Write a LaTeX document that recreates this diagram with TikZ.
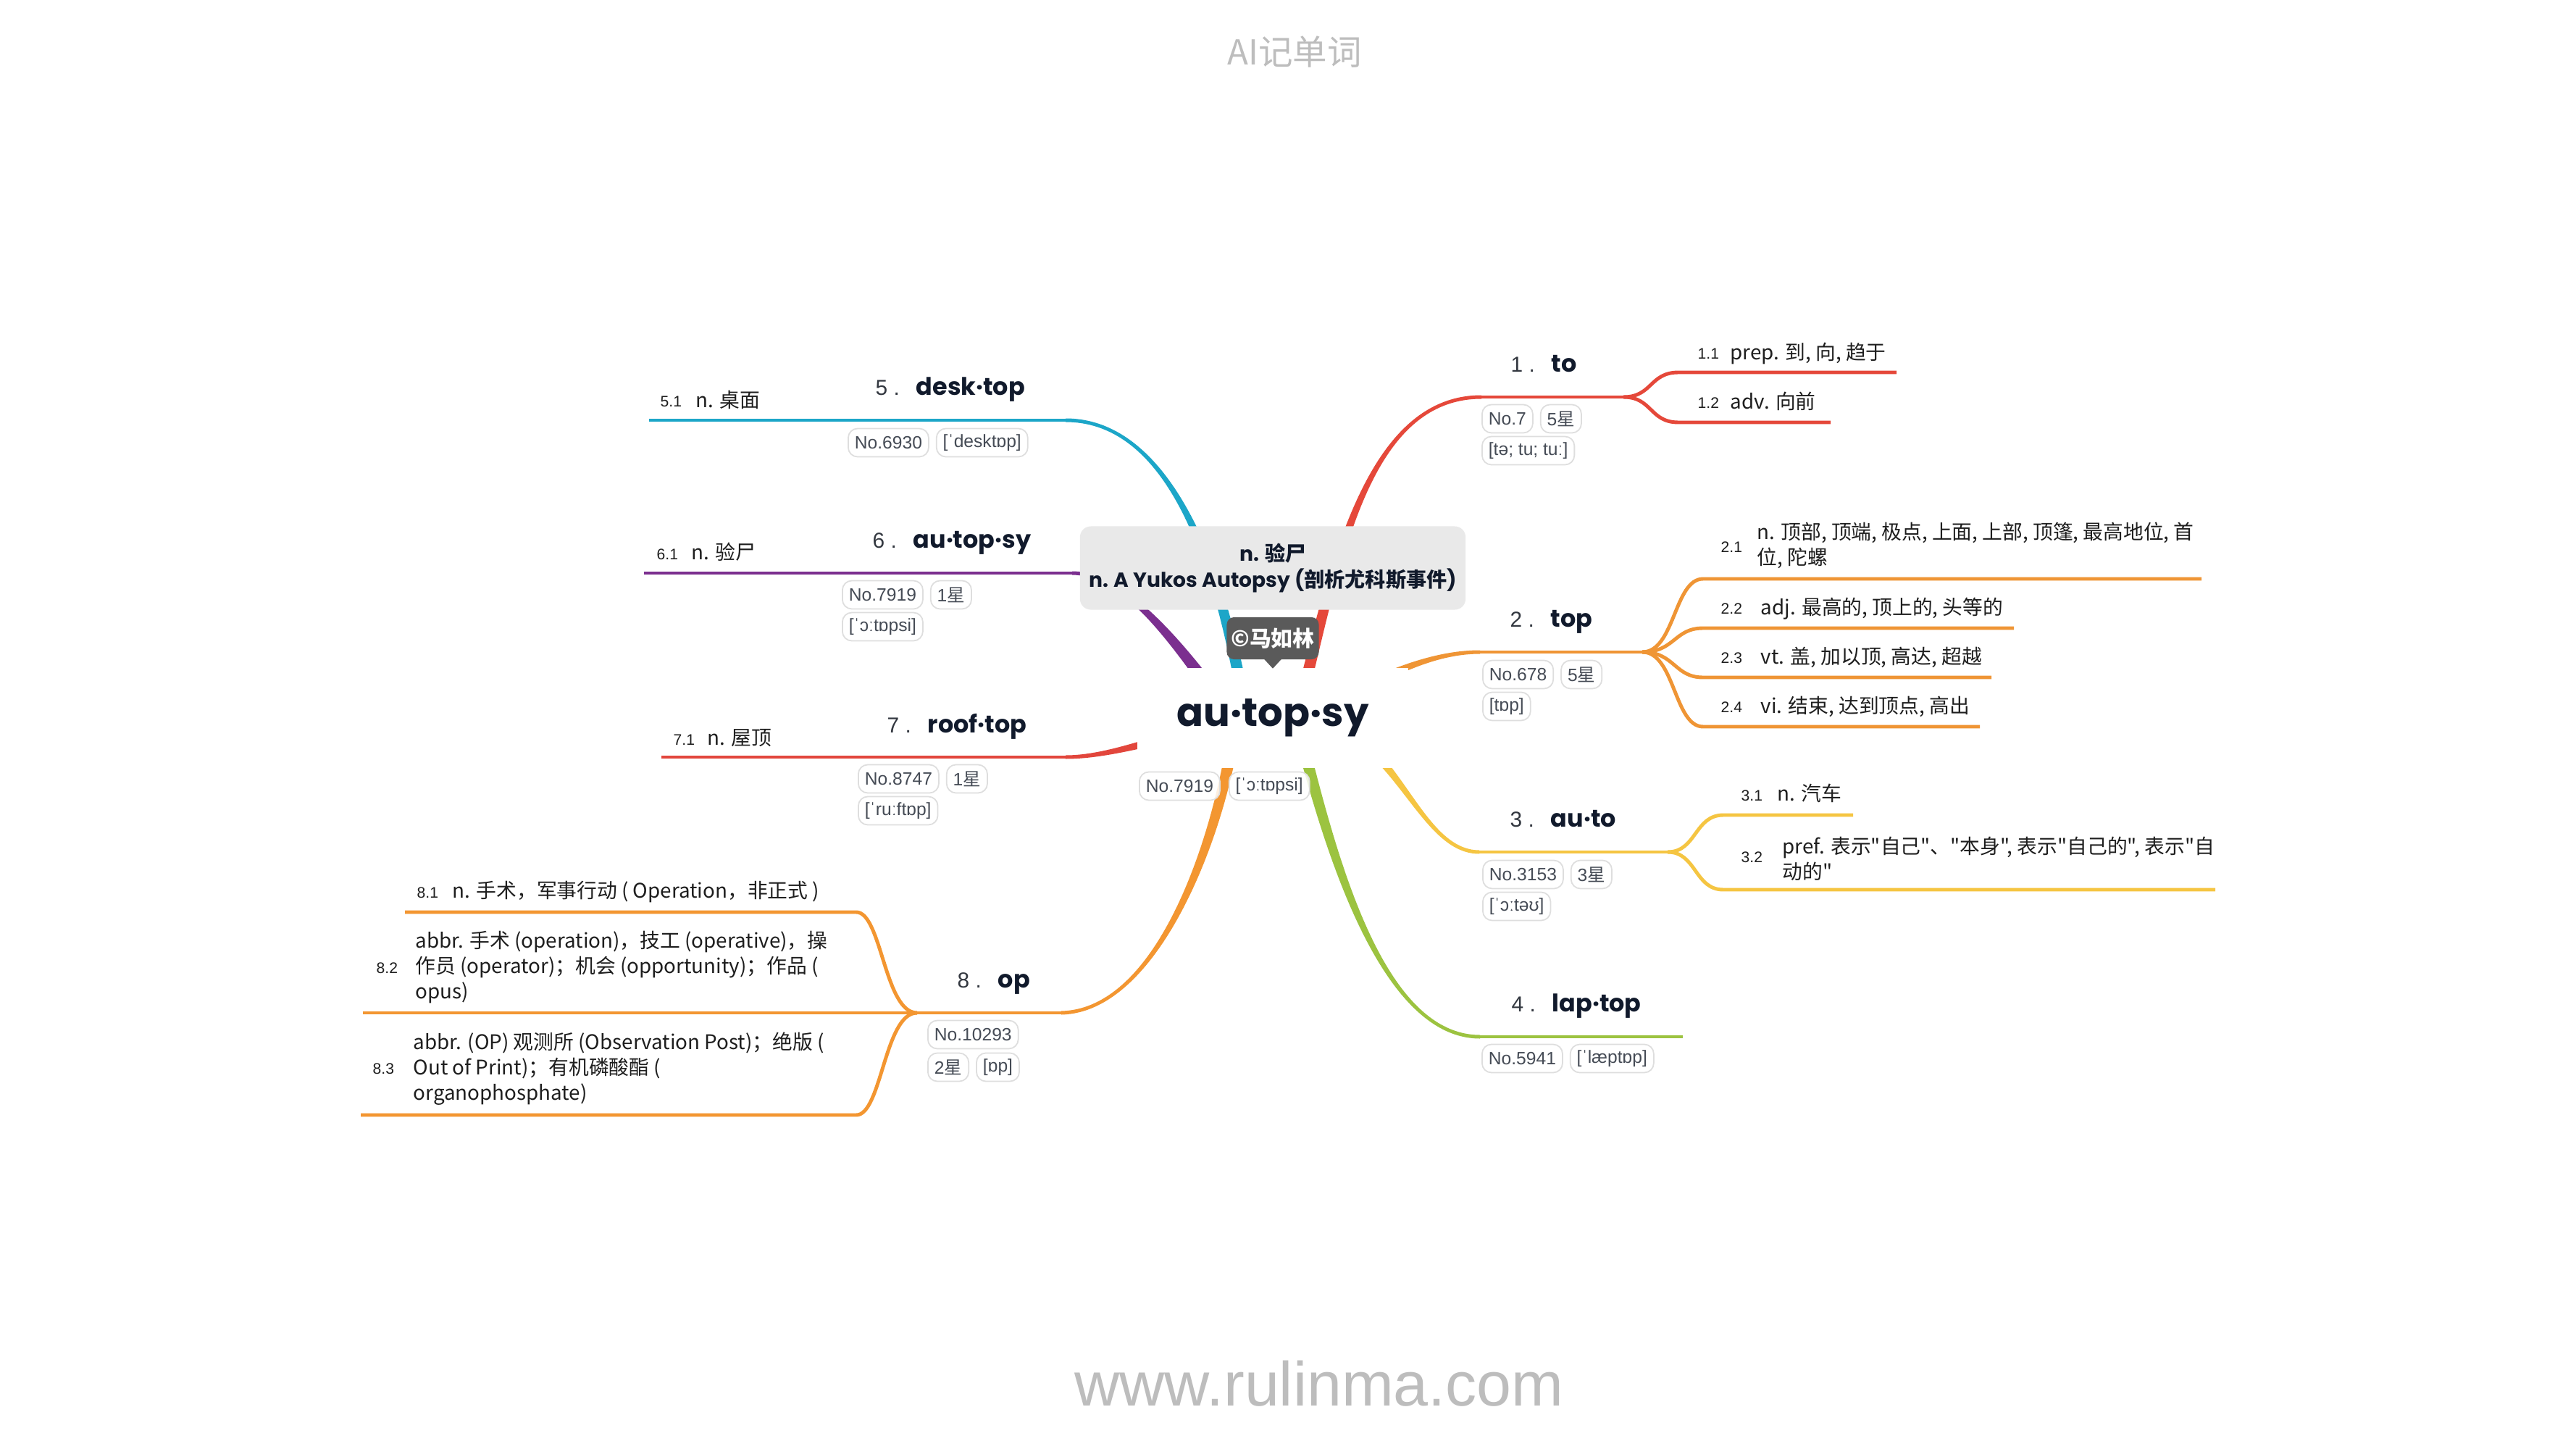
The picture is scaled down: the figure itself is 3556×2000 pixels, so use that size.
\documentclass[tikz,border=0pt]{standalone}
\usepackage{fontspec}
\setmainfont{Liberation Sans}
\newfontfamily\cjk{Noto Sans CJK SC}
\newfontfamily\pop{Poppins}
\usetikzlibrary{calc}
\pgfdeclarelayer{back}
\pgfdeclarelayer{bg}
\pgfsetlayers{back,bg,main}
\definecolor{redA}{HTML}{E5483A}
\definecolor{orangeB}{HTML}{EF9535}
\definecolor{yellowC}{HTML}{F5C542}
\definecolor{greenD}{HTML}{9CC340}
\definecolor{blueE}{HTML}{1CA6C8}
\definecolor{purpleF}{HTML}{7B2F8F}
\definecolor{redG}{HTML}{E2463C}
\definecolor{orangeH}{HTML}{F39631}
\definecolor{wordc}{HTML}{111A2C}
\definecolor{numc}{HTML}{333840}
\definecolor{leafc}{HTML}{1E1E1E}
\definecolor{tagc}{HTML}{454B55}
\definecolor{tagb}{HTML}{DEDEDE}
\definecolor{boxg}{HTML}{E9E9E9}
\definecolor{cbox}{HTML}{5A5A5A}
\definecolor{greyt}{HTML}{BDBDBD}

\newcommand\taper[7]{%
  \path ($(#1)!#5!90:(#2)$) coordinate (tA)
        ($(#1)!#5!-90:(#2)$) coordinate (tB)
        ($(#4)!#6!-90:(#3)$) coordinate (tC)
        ($(#4)!#6!90:(#3)$) coordinate (tD);
  \fill[#7] (tA) .. controls ($(#2)+(tA)-(#1)$) and ($(#3)+(tC)-(#4)$) .. (tC)
     -- (tD) .. controls ($(#3)+(tD)-(#4)$) and ($(#2)+(tB)-(#1)$) .. (tB) -- cycle;
}
\newcommand\xing{{\cjk 星}}
\newcommand\lab[2]{{\fontsize{8.5}{10}\selectfont\color{numc}#1 .}\hspace{6.5pt}{\pop\bfseries\fontsize{9.5}{11}\selectfont\color{wordc}#2}}

\begin{document}
\begin{tikzpicture}[x=0.01cm,y=-0.01cm,
  word/.style={anchor=base west,inner sep=0},
  leaf/.style={anchor=base west,inner sep=0,text=leafc,font=\cjk\fontsize{7.9}{10}\selectfont},
  leafm/.style={anchor=west,inner sep=0,align=left,text=leafc,font=\cjk\fontsize{7.9}{10}\selectfont},
  leafnum/.style={anchor=base west,inner sep=0,text=leafc,font=\fontsize{6}{7}\selectfont},
  tag/.style={anchor=west,draw=tagb,line width=0.5pt,fill=white,fill opacity=0.85,text opacity=1,rounded corners=0.13cm,minimum height=0.39cm,inner xsep=0.09cm,inner ysep=0pt,text=tagc,font=\fontsize{7}{8}\selectfont},
  sub/.style={line width=1.4pt},
]
\begin{pgfonlayer}{back}
\fill[white] (0,0) rectangle (3556,2000);
\end{pgfonlayer}
\useasboundingbox (0,0) rectangle (3556,2000);

% title and footer
\node[font=\cjk\fontsize{13.5}{16}\selectfont,text=greyt] (title) at (1787,72) {AI记单词};
\node[anchor=base,font=\fontsize{24.5}{28}\selectfont,text=greyt] (foot) at (1821,1940) {www.rulinma.com};

% central topic
\node[fill=white,minimum width=3.73cm,minimum height=1.38cm,inner sep=0,text=wordc,font=\pop\bfseries\fontsize{15.5}{18}\selectfont] (root) at (1757,991) {au·top·sy};
\node[fill=boxg,rounded corners=0.15cm,minimum width=5.32cm,minimum height=1.15cm,inner sep=0,align=center,text=wordc,font=\pop\bfseries\fontsize{8}{10}\selectfont] (def) at (1757,784) {n. {\cjk\bfseries 验尸}\\n. A Yukos Autopsy ({\cjk\bfseries 剖析尤科斯事件})};
\node[fill=cbox,rounded corners=0.1cm,minimum width=1.27cm,minimum height=0.58cm,inner sep=0,text=white,font=\cjk\bfseries\fontsize{8.5}{10}\selectfont] (copy) at (1757,881) {©马如林};
\fill[cbox] ($(copy.south)+(-12,-1)$) -- ($(copy.south)+(12,-1)$) -- ($(copy.south)+(0,12)$) -- cycle;
\node[tag] (t0a) at (1572,1085) {No.7919};
\node[tag] (t0b) at ($(t0a.east)+(11,0)$) {[ˈɔːtɒpsi]};

% main topic labels
\node[word] (n1) at (2085,513) {\lab{1}{to}};
\node[word] (n2) at (2084,865) {\lab{2}{top}};
\node[word] (n3) at (2084,1141) {\lab{3}{au·to}};
\node[word] (n4) at (2086,1396) {\lab{4}{lap·top}};
\node[word] (n5) at (1208,545) {\lab{5}{desk·top}};
\node[word] (n6) at (1204,756) {\lab{6}{au·top·sy}};
\node[word] (n7) at (1224,1011) {\lab{7}{roof·top}};
\node[word] (n8) at (1321,1363) {\lab{8}{op}};

% tags
\node[tag] (t1a) at (2045,578) {No.7};
\node[tag] (t1b) at ($(t1a.east)+(9,0)$) {5\xing\hspace{7pt}};
\node[tag] (t1c) at (2045,622) {[tə; tu; tuː]};
\node[tag] (t2a) at (2046,931) {No.678};
\node[tag] (t2b) at ($(t2a.east)+(9,0)$) {5\xing\hspace{7pt}};
\node[tag] (t2c) at (2046,975) {[tɒp]};
\node[tag] (t3a) at (2046,1207) {No.3153};
\node[tag] (t3b) at ($(t3a.east)+(9,0)$) {3\xing\hspace{7pt}};
\node[tag] (t3c) at (2046,1251) {[ˈɔːtəʊ]};
\node[tag] (t4a) at (2045,1461) {No.5941};
\node[tag] (t4b) at ($(t4a.east)+(9,0)$) {[ˈlæptɒp]};
\node[tag] (t5a) at (1170,611) {No.6930};
\node[tag] (t5b) at ($(t5a.east)+(9,0)$) {[ˈdesktɒp]};
\node[tag] (t6a) at (1162,821) {No.7919};
\node[tag] (t6b) at ($(t6a.east)+(9,0)$) {1\xing\hspace{7pt}};
\node[tag] (t6c) at (1162,865) {[ˈɔːtɒpsi]};
\node[tag] (t7a) at (1184,1075) {No.8747};
\node[tag] (t7b) at ($(t7a.east)+(9,0)$) {1\xing\hspace{7pt}};
\node[tag] (t7c) at (1184,1119) {[ˈruːftɒp]};
\node[tag] (t8a) at (1280,1428) {No.10293};
\node[tag] (t8b) at (1280,1473) {2\xing\hspace{7pt}};
\node[tag] (t8c) at ($(t8b.east)+(9,0)$) {[ɒp]};

% leaves
\node[leafnum] (k11) at (2343,495) {1.1};
\node[leaf] (v11) at (2388,496) {prep. 到, 向, 趋于};
\node[leafnum] (k12) at (2343,563) {1.2};
\node[leaf] (v12) at (2388,564) {adv. 向前};
\node[leafnum] (k21) at (2375,762) {2.1};
\node[leafm] (v21) at (2425,753) {n. 顶部, 顶端, 极点, 上面, 上部, 顶篷, 最高地位, 首\\位, 陀螺};
\node[leafnum] (k22) at (2375,847) {2.2};
\node[leaf] (v22) at (2430,848) {adj. 最高的, 顶上的, 头等的};
\node[leafnum] (k23) at (2375,915) {2.3};
\node[leaf] (v23) at (2430,916) {vt. 盖, 加以顶, 高达, 超越};
\node[leafnum] (k24) at (2375,983) {2.4};
\node[leaf] (v24) at (2430,984) {vi. 结束, 达到顶点, 高出};
\node[leafnum] (k31) at (2403,1105) {3.1};
\node[leaf] (v31) at (2453,1105) {n. 汽车};
\node[leafnum] (k32) at (2403,1190) {3.2};
\node[leafm] (v32) at (2460,1185) {pref. 表示"自己"、"本身", 表示"自己的", 表示"自\\动的"};
\node[leafnum] (k51) at (911,561) {5.1};
\node[leaf] (v51) at (960,562) {n. 桌面};
\node[leafnum] (k61) at (906,772) {6.1};
\node[leaf] (v61) at (954,772) {n. 验尸};
\node[leafnum] (k71) at (929,1028) {7.1};
\node[leaf] (v71) at (976,1028) {n. 屋顶};
\node[leafnum] (k81) at (575,1239) {8.1};
\node[leaf] (v81) at (624,1239) {n. 手术，军事行动 ( Operation，非正式 )};
\node[leafnum] (k82) at (519,1343) {8.2};
\node[leafm] (v82) at (573,1335) {abbr. 手术 (operation)，技工 (operative)，操\\作员 (operator)；机会 (opportunity)；作品 (\\opus)};
\node[leafnum] (k83) at (514,1482) {8.3};
\node[leafm] (v83) at (570,1475) {abbr. (OP) 观测所 (Observation Post)；绝版 (\\Out of Print)；有机磷酸酯 (\\organophosphate)};

% connector points
\coordinate (b1p) at (1790,990); \coordinate (b1q) at (1840,800); \coordinate (b1r) at (1880,548); \coordinate (b1e) at (2045,548);
\coordinate (b2p) at (1800,990); \coordinate (b2q) at (1880,950); \coordinate (b2r) at (1960,900); \coordinate (b2e) at (2043,900);
\coordinate (b3p) at (1820,990); \coordinate (b3q) at (1930,1020); \coordinate (b3r) at (1960,1176); \coordinate (b3e) at (2042,1176);
\coordinate (b4p) at (1790,995); \coordinate (b4q) at (1830,1150); \coordinate (b4r) at (1900,1431); \coordinate (b4e) at (2043,1431);
\coordinate (b5p) at (1720,990); \coordinate (b5q) at (1690,800); \coordinate (b5r) at (1620,580); \coordinate (b5e) at (1471,580);
\coordinate (b6p) at (1700,990); \coordinate (b6q) at (1640,910); \coordinate (b6r) at (1560,791); \coordinate (b6e) at (1480,791);
\coordinate (b7p) at (1700,1000); \coordinate (b7q) at (1620,1010); \coordinate (b7r) at (1540,1045); \coordinate (b7e) at (1471,1045);
\coordinate (b8p) at (1705,1000); \coordinate (b8q) at (1685,1150); \coordinate (b8r) at (1600,1395); \coordinate (b8e) at (1465,1398);

\coordinate (f1) at (2241,548);
\coordinate (l11s) at (2317,514); \coordinate (l11e) at (2618,514);
\coordinate (l12s) at (2317,583); \coordinate (l12e) at (2527,583);
\coordinate (f2) at (2267,900);
\coordinate (l21s) at (2351,799); \coordinate (l21e) at (3039,799);
\coordinate (l22s) at (2351,867); \coordinate (l22e) at (2780,867);
\coordinate (l23s) at (2351,935); \coordinate (l23e) at (2749,935);
\coordinate (l24s) at (2351,1003); \coordinate (l24e) at (2733,1003);
\coordinate (f3) at (2302,1176);
\coordinate (l31s) at (2379,1125); \coordinate (l31e) at (2558,1125);
\coordinate (l32s) at (2379,1228); \coordinate (l32e) at (3058,1228);
\coordinate (l4e) at (2323,1431);
\coordinate (l5e) at (896,580);
\coordinate (l6e) at (889,791);
\coordinate (l7e) at (913,1045);
\coordinate (f8) at (1266,1398);
\coordinate (l81s) at (1182,1259); \coordinate (l81e) at (559,1259);
\coordinate (l82e) at (501,1398);
\coordinate (l83s) at (1182,1539); \coordinate (l83e) at (498,1539);

\begin{pgfonlayer}{bg}
\taper{b1p}{b1q}{b1r}{b1e}{0.08cm}{0.025cm}{redA}
\taper{b2p}{b2q}{b2r}{b2e}{0.08cm}{0.025cm}{orangeB}
\taper{b3p}{b3q}{b3r}{b3e}{0.08cm}{0.025cm}{yellowC}
\taper{b4p}{b4q}{b4r}{b4e}{0.08cm}{0.025cm}{greenD}
\taper{b5p}{b5q}{b5r}{b5e}{0.08cm}{0.025cm}{blueE}
\taper{b6p}{b6q}{b6r}{b6e}{0.09cm}{0.025cm}{purpleF}
\taper{b7p}{b7q}{b7r}{b7e}{0.08cm}{0.025cm}{redG}
\taper{b8p}{b8q}{b8r}{b8e}{0.08cm}{0.025cm}{orangeH}

\draw[sub,redA] (b1e) -- (f1);
\draw[sub,redA] (f1) .. controls +(40,0) and +(-40,0) .. (l11s) -- (l11e);
\draw[sub,redA] (f1) .. controls +(40,0) and +(-40,0) .. (l12s) -- (l12e);
\draw[sub,orangeB] (b2e) -- (f2);
\draw[sub,orangeB] (f2) .. controls +(45,0) and +(-40,0) .. (l21s) -- (l21e);
\draw[sub,orangeB] (f2) .. controls +(45,0) and +(-40,0) .. (l22s) -- (l22e);
\draw[sub,orangeB] (f2) .. controls +(45,0) and +(-40,0) .. (l23s) -- (l23e);
\draw[sub,orangeB] (f2) .. controls +(45,0) and +(-40,0) .. (l24s) -- (l24e);
\draw[sub,yellowC] (b3e) -- (f3);
\draw[sub,yellowC] (f3) .. controls +(40,0) and +(-40,0) .. (l31s) -- (l31e);
\draw[sub,yellowC] (f3) .. controls +(40,0) and +(-40,0) .. (l32s) -- (l32e);
\draw[sub,greenD] (b4e) -- (l4e);
\draw[sub,blueE] (b5e) -- (l5e);
\draw[sub,purpleF] (b6e) -- (l6e);
\draw[sub,redG] (b7e) -- (l7e);
\draw[sub,orangeH] (b8e) -- (f8) -- (l82e);
\draw[sub,orangeH] (f8) .. controls +(-45,0) and +(35,0) .. (l81s) -- (l81e);
\draw[sub,orangeH] (f8) .. controls +(-45,0) and +(35,0) .. (l83s) -- (l83e);
\end{pgfonlayer}
\end{tikzpicture}
\end{document}
